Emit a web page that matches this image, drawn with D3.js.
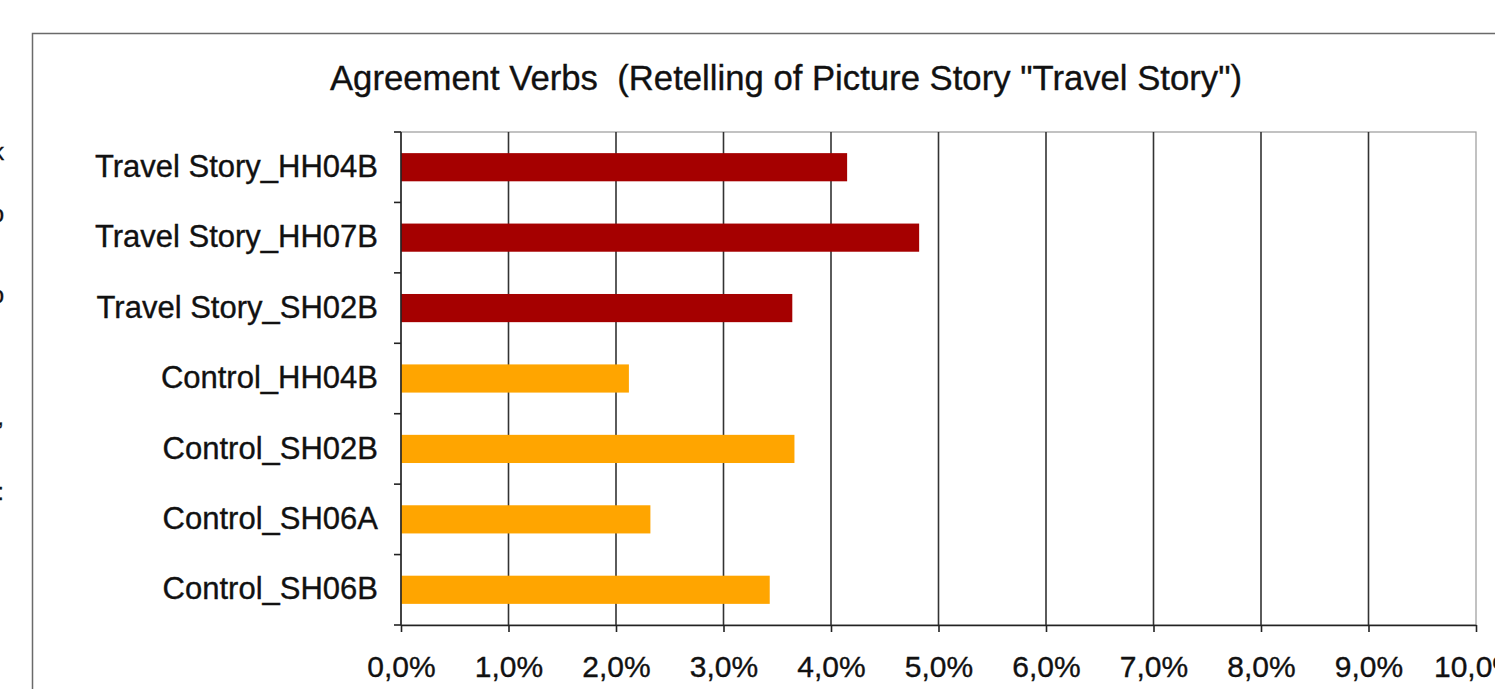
<!DOCTYPE html>
<html>
<head>
<meta charset="utf-8">
<script src="https://cdn.jsdelivr.net/npm/d3@7"></script>
<style>
  html, body { margin: 0; padding: 0; background: #fff; overflow: hidden; }
  svg { display: block; font-family: "Liberation Sans", Arial, sans-serif; }
  svg text { stroke: #111; stroke-width: 0.35px; }
</style>
</head>
<body>
<div id="chart"></div>
<script>
const categories = [
  "Travel Story_HH04B",
  "Travel Story_HH07B",
  "Travel Story_SH02B",
  "Control_HH04B",
  "Control_SH02B",
  "Control_SH06A",
  "Control_SH06B"
];
const groups = ["travel", "travel", "travel", "control", "control", "control", "control"];
// percent values
const values = [4.15, 4.82, 3.64, 2.12, 3.66, 2.32, 3.43];
const xTicks = [0, 1, 2, 3, 4, 5, 6, 7, 8, 9, 10];
const title = "Agreement Verbs  (Retelling of Picture Story \"Travel Story\")";
// clipped letters from the neighbouring page at the left edge
const edgeGlyphs = [{ t: "k", y: 160 }, { t: "o", y: 222 }, { t: "o", y: 303 }, { t: ",", y: 425 }, { t: ":", y: 500 }];

const width = 1495;
const height = 689;
const plot = { left: 401, right: 1476, top: 132, bottom: 625 };

const color = d3.scaleOrdinal()
  .domain(["travel", "control"])
  .range(["#a50000", "#ffa500"]);

const svg = d3.select("#chart")
  .append("svg")
  .attr("width", width)
  .attr("height", height)
  .attr("viewBox", [0, 0, width, height]);

// outer frame of the chart object (runs off the right and bottom)
svg.append("rect")
  .attr("x", 32.5)
  .attr("y", 33.5)
  .attr("width", width + 20)
  .attr("height", height)
  .attr("fill", "#fff")
  .attr("stroke", "#6a6a6a")
  .attr("stroke-width", 1.5);

svg.append("g")
  .selectAll("text")
  .data(edgeGlyphs)
  .join("text")
    .attr("x", 4)
    .attr("y", d => d.y)
    .attr("text-anchor", "end")
    .attr("font-size", 24)
    .attr("fill", "#111")
    .text(d => d.t);

const x = d3.scaleLinear()
  .domain([0, 10])
  .range([plot.left, plot.right]);

const y = d3.scaleBand()
  .domain(categories)
  .range([plot.top, plot.bottom])
  .paddingInner(0.6)
  .paddingOuter(0.3);

// title
svg.append("text")
  .attr("x", 786)
  .attr("y", 90)
  .attr("text-anchor", "middle")
  .attr("font-size", 34.7)
  .attr("fill", "#111")
  .style("white-space", "pre")
  .text(title);

// plot area border
svg.append("rect")
  .attr("x", plot.left)
  .attr("y", plot.top)
  .attr("width", plot.right - plot.left)
  .attr("height", plot.bottom - plot.top)
  .attr("fill", "none")
  .attr("stroke", "#9a9a9a")
  .attr("stroke-width", 1.2);

// vertical gridlines
svg.append("g")
  .selectAll("line")
  .data(xTicks.filter(t => t > 0 && t < 10))
  .join("line")
    .attr("x1", d => x(d))
    .attr("x2", d => x(d))
    .attr("y1", plot.top)
    .attr("y2", plot.bottom)
    .attr("stroke", "#333")
    .attr("stroke-width", 1.6);

// bars
svg.append("g")
  .selectAll("rect")
  .data(categories)
  .join("rect")
    .attr("x", x(0))
    .attr("y", d => y(d))
    .attr("width", (d, i) => x(values[i]) - x(0))
    .attr("height", y.bandwidth())
    .attr("fill", (d, i) => color(groups[i]));

// y axis: ticks sit on category boundaries
const step = y.step();
const boundaries = d3.range(categories.length + 1).map(i => plot.top + i * step);
const yAxis = svg.append("g");
yAxis.append("line")
  .attr("x1", plot.left)
  .attr("x2", plot.left)
  .attr("y1", plot.top)
  .attr("y2", plot.bottom)
  .attr("stroke", "#222")
  .attr("stroke-width", 1.6);
yAxis.selectAll(".ytick")
  .data(boundaries)
  .join("line")
    .attr("class", "ytick")
    .attr("x1", plot.left - 7)
    .attr("x2", plot.left)
    .attr("y1", d => d)
    .attr("y2", d => d)
    .attr("stroke", "#222")
    .attr("stroke-width", 1.6);
yAxis.selectAll("text")
  .data(categories)
  .join("text")
    .attr("x", 378)
    .attr("y", d => y(d) + y.bandwidth() / 2)
    .attr("dy", "0.31em")
    .attr("text-anchor", "end")
    .attr("font-size", 31)
    .attr("fill", "#111")
    .text(d => d);

// x axis
const xAxis = svg.append("g")
  .attr("transform", `translate(0,${plot.bottom})`)
  .call(d3.axisBottom(x)
    .tickValues(xTicks)
    .tickSize(7)
    .tickSizeOuter(0)
    .tickPadding(24)
    .tickFormat(d => d.toFixed(1).replace(".", ",") + "%"));
xAxis.select(".domain").attr("stroke", "#222").attr("stroke-width", 1.6);
xAxis.selectAll(".tick line").attr("stroke", "#222").attr("stroke-width", 1.6);
xAxis.selectAll(".tick text")
  .attr("font-size", 30)
  .attr("fill", "#111")
  .attr("font-family", "\"Liberation Sans\", Arial, sans-serif");
</script>
</body>
</html>
